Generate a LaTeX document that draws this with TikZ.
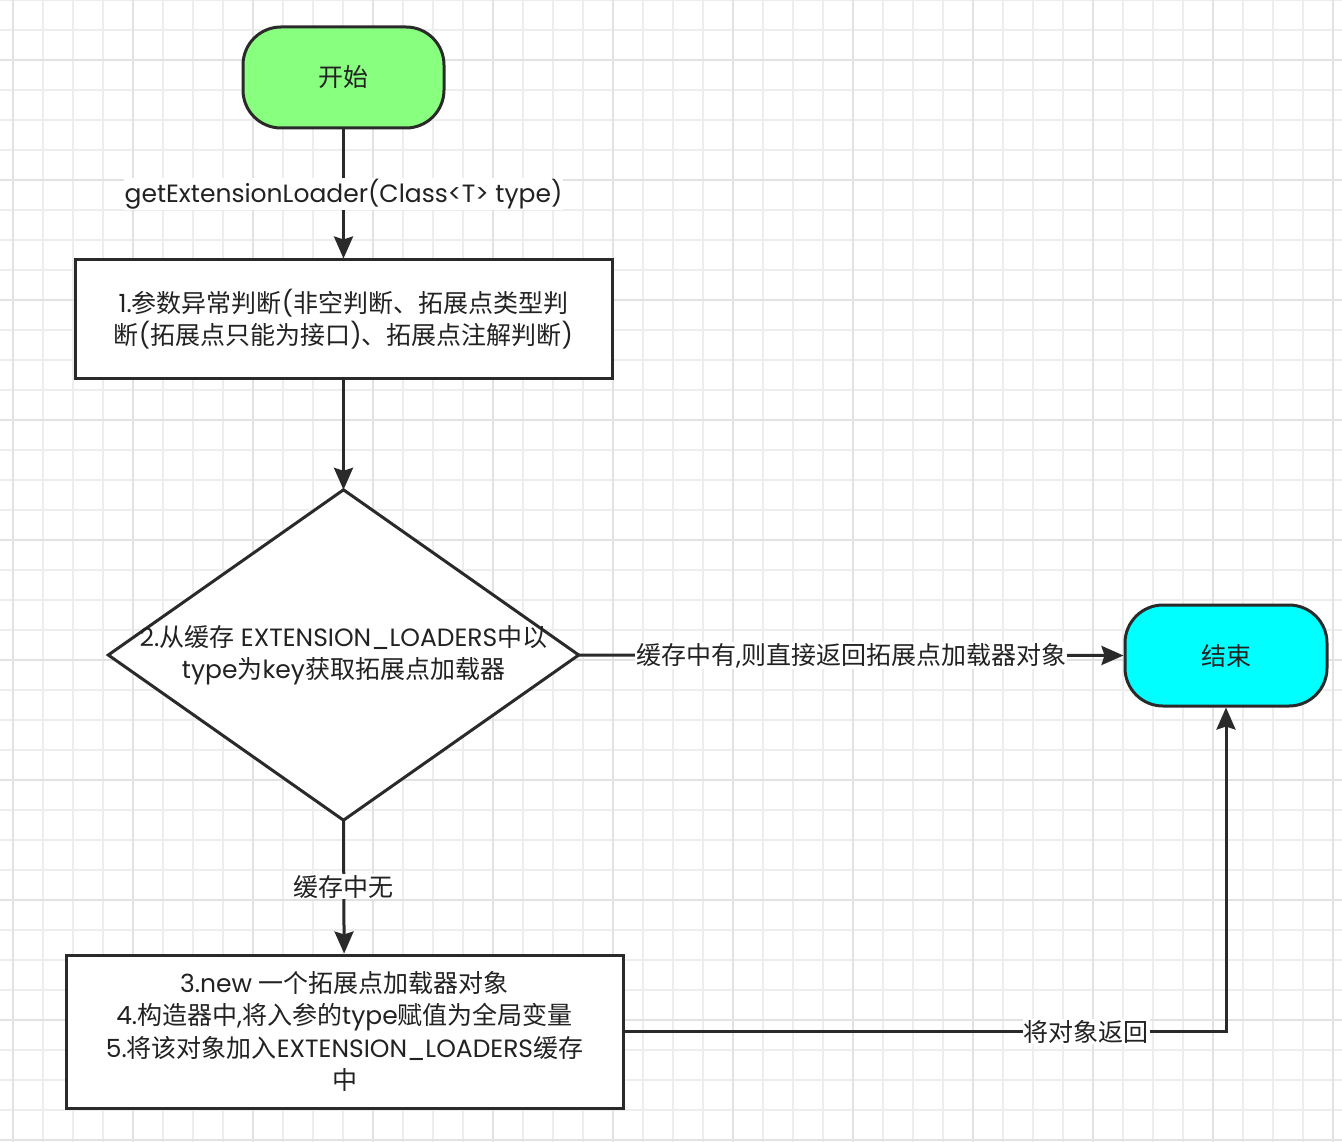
\documentclass[tikz,border=0pt]{standalone}
\usepackage{fontspec}
\setmainfont{Poppins}
\newfontfamily\cjk{Noto Sans CJK SC}
\newcommand\zh[1]{{\cjk #1}}
\usetikzlibrary{arrows.meta}
\definecolor{gridminor}{HTML}{EDEDED}
\definecolor{gridmajor}{HTML}{E2E2E2}
\definecolor{linec}{HTML}{2A2A2A}
\definecolor{startc}{HTML}{88FF7F}
\definecolor{endc}{HTML}{00FFFF}
\definecolor{txtc}{HTML}{222222}
\tikzset{
  box/.style={draw=linec, line width=3pt, fill=white, inner sep=0pt, align=center, text=txtc},
  term/.style={box, rounded corners=38pt},
  conn/.style={draw=linec, line width=3pt, -{Stealth[length=22pt,width=19pt,inset=3pt]}},
  lbl/.style={fill=white, inner sep=1pt, text=txtc},
}
\begin{document}
\begin{tikzpicture}[x=1pt,y=-1pt,font=\fontsize{25}{32.5}\selectfont]
\useasboundingbox (0,0) rectangle (1342,1142);
\fill[white] (0,0) rectangle (1342,1142);
\foreach \x in {13,43,...,1342} \draw[gridminor, line width=1.5pt] (\x,0) -- (\x,1142);
\foreach \y in {0,30,...,1142} \draw[gridminor, line width=1.5pt] (0,\y) -- (1342,\y);
\foreach \x in {13,133,...,1342} \draw[gridmajor, line width=1.8pt] (\x,0) -- (\x,1142);
\foreach \y in {60,180,...,1142} \draw[gridmajor, line width=1.8pt] (0,\y) -- (1342,\y);

\node[term, fill=startc, minimum width=201pt, minimum height=101pt] (s) at (343.5,77.5) {\zh{开始}};
\node[box, minimum width=537pt, minimum height=118pt] (b1) at (343.5,319) {1.\zh{参数异常判断}(\zh{非空判断、拓展点类型判}\\\zh{断}(\zh{拓展点只能为接口})\zh{、拓展点注解判断})};
\node[minimum width=470pt, minimum height=330pt, inner sep=0pt] (d) at (343.5,655) {};
\draw[linec, line width=3pt, fill=white, line join=miter] (d.north) -- (d.east) -- (d.south) -- (d.west) -- cycle;
\node[align=center, text=txtc] (dt) at (d.center) {2.\zh{从缓存} EXTENSION\_LOADERS\zh{中以}\\type\zh{为}key\zh{获取拓展点加载器}};
\node[term, fill=endc, minimum width=202pt, minimum height=101pt] (e) at (1226,655.5) {\zh{结束}};
\node[box, minimum width=557pt, minimum height=153pt] (b3) at (344.5,1031.5) {3.new \zh{一个拓展点加载器对象}\\4.\zh{构造器中},\zh{将入参的}type\zh{赋值为全局变量}\\5.\zh{将该对象加入}EXTENSION\_LOADERS\zh{缓存}\\\zh{中}};

\draw[conn] (s) -- node[lbl] {getExtensionLoader(Class<T> type)} (b1);
\draw[conn] (b1) -- (d.north);
\draw[conn] (d.east) -- node[lbl] {\zh{缓存中有},\zh{则直接返回拓展点加载器对象}} (e.west);
\draw[conn] (d.south) -- node[lbl] {\zh{缓存中无}} (b3);
\draw[conn] (b3.east) -| node[lbl, pos=0.384] {\zh{将对象返回}} (e.south);
\end{tikzpicture}
\end{document}
